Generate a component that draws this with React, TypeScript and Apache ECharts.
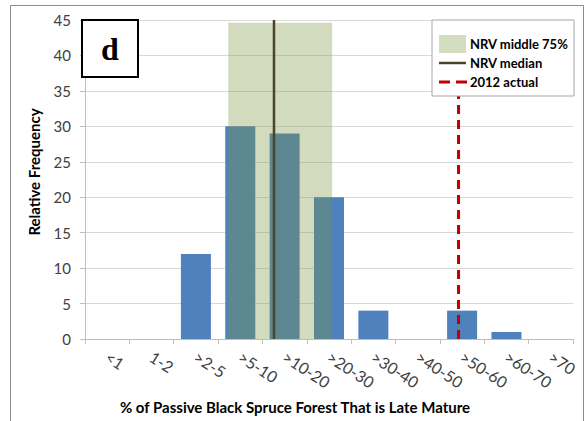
import React, { useEffect, useRef } from "react";
import * as echarts from "echarts";

const categories = ["<1", "1-2", ">2-5", ">5-10", ">10-20", ">20-30", ">30-40", ">40-50", ">50-60", ">60-70", ">70"];
const frequency = [0, 0, 12, 30, 29, 20, 4, 0, 4, 1, 0];
// NRV middle 75% band, in category-index units: [start, end, height]
const nrvBand = [[3.23, 5.57, 44.6]];
const nrvMedianX = 4.26;
const actual2012X = 8.42;
const yTicks = { min: 0, max: 45, interval: 5 };

const FONT = "Lato";

export default function App() {
  const ref = useRef<HTMLDivElement>(null);
  useEffect(() => {
    const chart = echarts.init(ref.current!, null, { renderer: "svg" });
    const legendZ = 200;
    const option: any = {
      animation: false,
      backgroundColor: "#ffffff",
      grid: { left: 85, right: 11, top: 20, bottom: 82, containLabel: false },
      xAxis: [
        {
          type: "category",
          data: categories,
          boundaryGap: true,
          axisLine: { lineStyle: { color: "#bfbfbf", width: 1 } },
          axisTick: { show: true, length: 5, lineStyle: { color: "#bfbfbf" } },
          axisLabel: {
            interval: 0,
            rotate: -33,
            margin: 16,
            fontFamily: FONT,
            fontSize: 16,
            color: "#404040",
          },
        },
        { type: "value", min: 0, max: 11, show: false },
      ],
      yAxis: {
        type: "value",
        min: yTicks.min,
        max: yTicks.max,
        interval: yTicks.interval,
        axisLine: { show: true, lineStyle: { color: "#bfbfbf" } },
        axisTick: { show: true, length: 5, lineStyle: { color: "#bfbfbf" } },
        axisLabel: { margin: 14, fontFamily: FONT, fontSize: 15, color: "#404040" },
        splitLine: { lineStyle: { color: "#d9d9d9" } },
      },
      series: [
        {
          type: "bar",
          xAxisIndex: 0,
          data: frequency,
          barWidth: 30,
          z: 2,
          itemStyle: { color: "#4F81BD" },
        },
        {
          type: "custom",
          xAxisIndex: 1,
          z: 3,
          data: nrvBand,
          encode: { x: [0, 1], y: 2 },
          renderItem: (params: any, api: any) => {
            const p0 = api.coord([api.value(0), api.value(2)]);
            const p1 = api.coord([api.value(1), 0]);
            return {
              type: "rect",
              shape: { x: p0[0], y: p0[1], width: p1[0] - p0[0], height: p1[1] - p0[1] },
              style: { fill: "rgba(122,150,62,0.34)" },
            };
          },
        },
        {
          type: "line",
          xAxisIndex: 1,
          z: 4,
          symbol: "none",
          data: [[nrvMedianX, 0], [nrvMedianX, yTicks.max]],
          lineStyle: { color: "#4a452a", width: 2.5 },
        },
        {
          type: "line",
          xAxisIndex: 1,
          z: 4,
          symbol: "none",
          data: [[actual2012X, 0], [actual2012X, yTicks.max]],
          lineStyle: { color: "#C00000", width: 3, type: [9, 6] },
        },
      ],
      graphic: [
        {
          type: "rect",
          z: legendZ,
          shape: { x: 10.5, y: 5.5, width: 573, height: 420 },
          style: { fill: "none", stroke: "#8c8c8c", lineWidth: 1 },
        },
        {
          type: "rect",
          z: legendZ,
          shape: { x: 82, y: 20, width: 56, height: 57 },
          style: { fill: "#ffffff", stroke: "#000000", lineWidth: 2 },
        },
        {
          type: "text",
          z: legendZ + 1,
          x: 110,
          y: 49,
          style: {
            text: "d",
            font: "bold 32px 'Liberation Serif'",
            fill: "#000000",
            align: "center",
            verticalAlign: "middle",
          },
        },
        {
          type: "rect",
          z: legendZ,
          shape: { x: 432, y: 20, width: 142, height: 76 },
          style: { fill: "#ffffff", stroke: "#a6a6a6", lineWidth: 1 },
        },
        {
          type: "rect",
          z: legendZ + 1,
          shape: { x: 439, y: 35, width: 27, height: 18 },
          style: { fill: "#D3DDC0" },
        },
        {
          type: "text",
          z: legendZ + 1,
          x: 470,
          y: 44,
          style: { text: "NRV middle 75%", font: `bold 13px ${FONT}`, fill: "#000", verticalAlign: "middle" },
        },
        {
          type: "line",
          z: legendZ + 1,
          shape: { x1: 439, y1: 63, x2: 466, y2: 63 },
          style: { stroke: "#4a452a", lineWidth: 2.5 },
        },
        {
          type: "text",
          z: legendZ + 1,
          x: 470,
          y: 63,
          style: { text: "NRV median", font: `bold 13px ${FONT}`, fill: "#000", verticalAlign: "middle" },
        },
        {
          type: "line",
          z: legendZ + 1,
          shape: { x1: 439, y1: 82, x2: 450, y2: 82 },
          style: { stroke: "#C00000", lineWidth: 3 },
        },
        {
          type: "line",
          z: legendZ + 1,
          shape: { x1: 456, y1: 82, x2: 467, y2: 82 },
          style: { stroke: "#C00000", lineWidth: 3 },
        },
        {
          type: "text",
          z: legendZ + 1,
          x: 470,
          y: 82,
          style: { text: "2012 actual", font: `bold 13px ${FONT}`, fill: "#000", verticalAlign: "middle" },
        },
        {
          type: "text",
          z: legendZ,
          x: 295,
          y: 407,
          style: {
            text: "% of Passive Black Spruce Forest That is Late Mature",
            font: `bold 15px ${FONT}`,
            fill: "#000",
            align: "center",
            verticalAlign: "middle",
          },
        },
        {
          type: "text",
          z: legendZ,
          x: 34,
          y: 172,
          rotation: Math.PI / 2,
          style: {
            text: "Relative Frequency",
            font: `bold 15px ${FONT}`,
            fill: "#000",
            align: "center",
            verticalAlign: "middle",
          },
        },
      ],
    };
    chart.setOption(option);
    return () => chart.dispose();
  }, []);
  return (
    <div
      ref={ref}
      style={{ position: "fixed", left: 0, top: 0, width: 584, height: 421 }}
    />
  );
}
